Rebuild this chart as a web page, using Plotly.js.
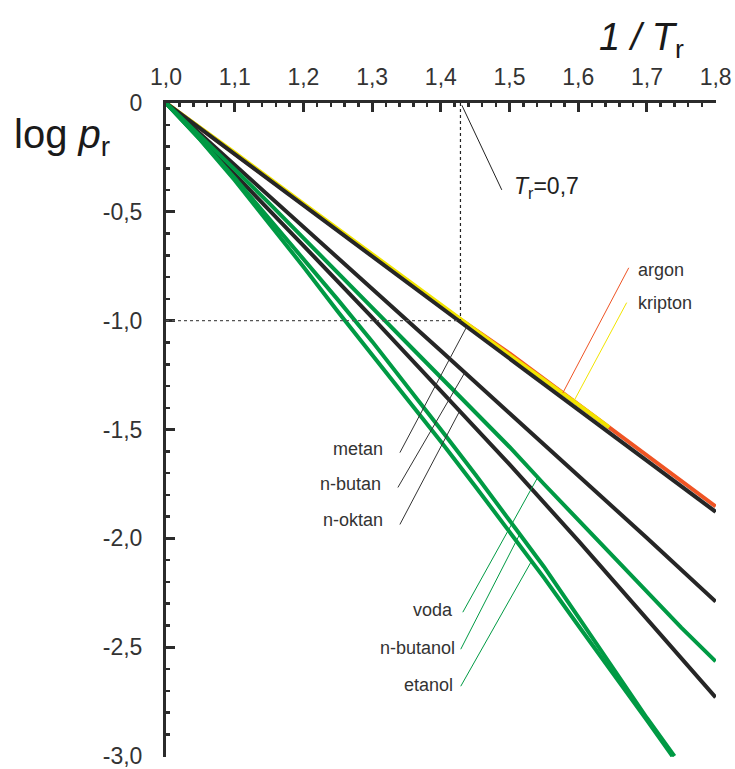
<!DOCTYPE html>
<html><head><meta charset="utf-8">
<script src="https://cdn.plot.ly/plotly-3.0.1.min.js"></script>
<style>html,body{margin:0;padding:0;background:#fff}#chart{width:735px;height:769px}</style>
</head><body><div id="chart"></div>
<script>
// ---- data ----
const gridA = [1.0, 1.1, 1.2, 1.3, 1.4, 1.5, 1.6, 1.7, 1.8];
const argonY   = [0, -0.234, -0.468, -0.700, -0.932, -1.150, -1.385, -1.622, -1.853];
const kriptonX = [1.0, 1.1, 1.2, 1.3, 1.4, 1.5, 1.6, 1.645];
const kriptonY = [0, -0.228, -0.462, -0.695, -0.930, -1.158, -1.385, -1.490];
const metanY   = [0, -0.235, -0.470, -0.705, -0.940, -1.170, -1.405, -1.640, -1.878];
const nbutanY  = [0, -0.283, -0.567, -0.852, -1.138, -1.425, -1.710, -1.998, -2.290];
const noktanY  = [0, -0.325, -0.655, -0.985, -1.320, -1.660, -2.010, -2.370, -2.730];
const vodaX = [1.0, 1.05, 1.1, 1.15, 1.2, 1.25, 1.3, 1.35, 1.4, 1.45, 1.5, 1.55, 1.6, 1.65, 1.7, 1.75, 1.8];
const vodaY = [0, -0.150, -0.305, -0.460, -0.618, -0.778, -0.940, -1.100, -1.260, -1.420, -1.580, -1.750, -1.915, -2.085, -2.250, -2.410, -2.565];
const nbutanolX = [1.0, 1.05, 1.1, 1.15, 1.2, 1.25, 1.3, 1.35, 1.4, 1.45, 1.5, 1.55, 1.6, 1.65, 1.7, 1.74];
const nbutanolY = [0, -0.168, -0.345, -0.530, -0.715, -0.903, -1.095, -1.295, -1.500, -1.705, -1.915, -2.130, -2.360, -2.590, -2.825, -3.0];
const etanolX = [1.0, 1.05, 1.1, 1.15, 1.2, 1.25, 1.3, 1.35, 1.4, 1.45, 1.5, 1.55, 1.6, 1.65, 1.7, 1.737];
const etanolY = [0, -0.170, -0.355, -0.550, -0.752, -0.958, -1.156, -1.354, -1.555, -1.760, -1.970, -2.180, -2.400, -2.615, -2.835, -3.0];

const xTickLabels = ["1,0","1,1","1,2","1,3","1,4","1,5","1,6","1,7","1,8"];
const xTickVals = [1.0,1.1,1.2,1.3,1.4,1.5,1.6,1.7,1.8];
const yTickVals = [0,-0.5,-1.0,-1.5,-2.0,-2.5,-3.0];
const yTickLabels = ["0","-0,5","-1,0","-1,5","-2,0","-2,5","-3,0"];
const TrRef = 0.7;

// ---- styles ----
const FONT = "Liberation Sans, Arial, sans-serif";
const BLACK = "#262626", GREEN = "#009a44", RED = "#ef5424", YELLOW = "#f2e400";

function interp(xs, ys, x){
  for(let i=0;i<xs.length-1;i++){
    if(x>=xs[i] && x<=xs[i+1]){
      const t=(x-xs[i])/(xs[i+1]-xs[i]); return ys[i]+t*(ys[i+1]-ys[i]);
    }
  }
  return ys[ys.length-1];
}

function tr(x,y,color){
  return {x:x,y:y,type:'scatter',mode:'lines',line:{color:color,width:4},hoverinfo:'skip',showlegend:false};
}
const traces = [
  tr(gridA, argonY, RED),
  tr(kriptonX, kriptonY, YELLOW),
  tr(gridA, metanY, BLACK),
  tr(gridA, nbutanY, BLACK),
  tr(gridA, noktanY, BLACK),
  tr(vodaX, vodaY, GREEN),
  tr(nbutanolX, nbutanolY, GREEN),
  tr(etanolX, etanolY, GREEN)
];

// leader definitions: label end (data coords) -> point on curve at x
const leaders = [
  {lx:1.6735, ly:-0.757, cx:1.5775, xs:gridA, ys:argonY, color:RED},
  {lx:1.6705, ly:-0.917, cx:1.5935, xs:kriptonX, ys:kriptonY, color:YELLOW},
  {lx:1.3404, ly:-1.606, cx:1.4378, xs:gridA, ys:metanY, color:'#333'},
  {lx:1.3375, ly:-1.766, cx:1.4349, xs:gridA, ys:nbutanY, color:'#333'},
  {lx:1.3404, ly:-1.936, cx:1.4276, xs:gridA, ys:noktanY, color:'#333'},
  {lx:1.4320, ly:-2.339, cx:1.5410, xs:vodaX, ys:vodaY, color:GREEN},
  {lx:1.4290, ly:-2.509, cx:1.5150, xs:nbutanolX, ys:nbutanolY, color:GREEN},
  {lx:1.4290, ly:-2.679, cx:1.5320, xs:etanolX, ys:etanolY, color:GREEN}
];
const shapes = leaders.map(l=>({type:'line',xref:'x',yref:'y',x0:l.lx,y0:l.ly,x1:l.cx,y1:interp(l.xs,l.ys,l.cx),line:{color:l.color,width:1}}));
shapes.push({type:'line',xref:'x',yref:'y',x0:1/TrRef,x1:1/TrRef,y0:0,y1:-1.0,line:{color:'#222',width:1.2,dash:'dot'}});
shapes.push({type:'line',xref:'x',yref:'y',x0:1.0,x1:1/TrRef,y0:-1.0,y1:-1.0,line:{color:'#555',width:1.2,dash:'dot'}});
// leader for T_r label
shapes.push({type:'line',xref:'x',yref:'y',x0:1.4887,y0:-0.399,x1:1/TrRef+0.002,y1:-0.01,line:{color:'#222',width:1}});

function lab(text,x,y,anchor){
  return {text:text,x:x,y:y,xref:'x',yref:'y',xanchor:anchor,yanchor:'middle',showarrow:false,font:{family:FONT,size:18,color:'#333'}};
}
const annotations = [
  lab('argon',1.6836,-0.766,'left'),
  lab('kripton',1.6836,-0.917,'left'),
  lab('metan',1.3185,-1.587,'right'),
  lab('n-butan',1.3156,-1.752,'right'),
  lab('n-oktan',1.3185,-1.917,'right'),
  lab('voda',1.4204,-2.330,'right'),
  lab('n-butanol',1.4233,-2.505,'right'),
  lab('etanol',1.4204,-2.674,'right'),
  {text:'<i>T</i><sub>r</sub>=0,7',x:1.5035,y:-0.39,xref:'x',yref:'y',xanchor:'left',yanchor:'middle',showarrow:false,font:{family:FONT,size:23,color:'#222'}},
  {text:'<i>1 / T</i><sub>r</sub>',x:0.7836,y:1.096,xref:'paper',yref:'paper',xanchor:'left',yanchor:'middle',showarrow:false,font:{family:FONT,size:38,color:'#1a1a1a'}},
  {text:'log <i>p</i><sub>r</sub>',x:-0.28,y:0.948,xref:'paper',yref:'paper',xanchor:'left',yanchor:'middle',showarrow:false,font:{family:FONT,size:40,color:'#1a1a1a'}}
];

const layout = {
  width:735, height:769,
  margin:{l:166, r:19, t:103, b:12},
  paper_bgcolor:'#fff', plot_bgcolor:'#fff',
  separators:',.',
  showlegend:false,
  xaxis:{range:[1,1.8005], side:'top', anchor:'y', showline:true, linewidth:3, linecolor:'#2b2b2b',
    ticks:'inside', ticklen:9, tickwidth:3, tickcolor:'#2b2b2b',
    tickmode:'array', tickvals:xTickVals, ticktext:xTickLabels,
    tickfont:{family:FONT,size:23,color:'#333'}, ticklabelstandoff:6, ticklabeloverflow:'allow',
    showgrid:false, zeroline:false,
    minor:{ticks:'inside', ticklen:4, tickwidth:2.5, tickcolor:'#2b2b2b', tickmode:'linear', tick0:1, dtick:0.02, showgrid:false}},
  yaxis:{range:[-3.004,0], showline:true, linewidth:3, linecolor:'#2b2b2b',
    ticks:'inside', ticklen:9, tickwidth:3, tickcolor:'#2b2b2b',
    tickmode:'array', tickvals:yTickVals, ticktext:yTickLabels,
    tickfont:{family:FONT,size:23,color:'#333'}, ticklabelstandoff:16, ticklabeloverflow:'allow',
    showgrid:false, zeroline:false,
    minor:{ticks:'inside', ticklen:4, tickwidth:2.5, tickcolor:'#2b2b2b', tickmode:'linear', tick0:0, dtick:0.1, showgrid:false}},
  shapes:shapes,
  annotations:annotations
};
Plotly.newPlot('chart', traces, layout, {staticPlot:true, displayModeBar:false});
</script></body></html>
